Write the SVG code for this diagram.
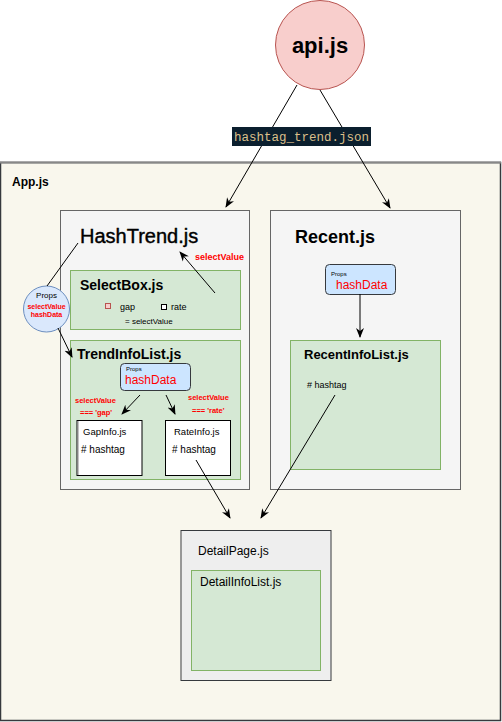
<svg xmlns="http://www.w3.org/2000/svg" width="502" height="722" viewBox="0 0 502 722">
<style>
text{font-family:"Liberation Sans",Arial,sans-serif;fill:#000}
.b{font-weight:bold}
.red{fill:#ff0000}
.ln{stroke:#000;stroke-width:1;fill:none}
.grey{fill:#f5f5f5;stroke:#666;stroke-width:1}
.green{fill:#d5e8d4;stroke:#82b366;stroke-width:1}
.white{fill:#fff;stroke:#000;stroke-width:1}
.props{fill:#cce5ff;stroke:#36393d;stroke-width:1}
</style>
<defs>
<marker id="ah" viewBox="0 0 10 10" refX="9" refY="5" markerWidth="10" markerHeight="10" orient="auto" markerUnits="userSpaceOnUse">
<path d="M0,1 L10,5 L0,9 L3,5 Z" fill="#000"/>
</marker>
</defs>
<rect width="502" height="722" fill="#fff"/>
<g id="app">
<rect x="0.5" y="162.5" width="500" height="558" fill="#f9f7ed" stroke="#36393d" stroke-width="1.5"/>
<line x1="0" y1="162.5" x2="501" y2="162.5" stroke="#888" stroke-width="2"/>
<text x="12" y="186" class="b" font-size="12">App.js</text>
</g>
<g id="api">
<circle cx="320" cy="45" r="44.5" fill="#f8cecc" stroke="#b85450"/>
<text x="320" y="53" class="b" font-size="22" text-anchor="middle">api.js</text>
</g>
<g id="hashtrend">
<rect x="60.5" y="210.5" width="189" height="279" class="grey"/>
<text x="80" y="243" font-size="20" stroke="#000" stroke-width="0.4">HashTrend.js</text>
</g>
<g id="selectbox">
<rect x="70.5" y="270.5" width="170" height="59" class="green"/>
<text x="80" y="290" class="b" font-size="14">SelectBox.js</text>
<rect x="105.5" y="303.5" width="5" height="5" fill="#f8cecc" stroke="#b85450"/>
<text x="120" y="310" font-size="9">gap</text>
<rect x="161.5" y="304.5" width="5" height="5" fill="#fff" stroke="#000"/>
<text x="171" y="310" font-size="9">rate</text>
<text x="125" y="324" font-size="8">= selectValue</text>
<text x="195" y="260" class="b red" font-size="9">selectValue</text>
</g>
<g id="props-circle">
<circle cx="46.5" cy="309" r="23" fill="#dae8fc" stroke="#6c8ebf"/>
<text x="46.5" y="298" font-size="8" text-anchor="middle">Props</text>
<text x="46.5" y="309" font-size="7" class="b red" text-anchor="middle">selectValue</text>
<text x="46.5" y="317" font-size="7" class="b red" text-anchor="middle">hashData</text>
</g>
<g id="trendinfolist">
<rect x="70.5" y="340.5" width="170" height="139" class="green"/>
<text x="77" y="359" class="b" font-size="14">TrendInfoList.js</text>
<rect x="120.5" y="363.5" width="70" height="27" rx="4" class="props"/>
<text x="126" y="371" font-size="6">Props</text>
<text x="125" y="384" font-size="12" class="red">hashData</text>
<text x="75" y="403" font-size="7.5" class="b red">selectValue</text>
<text x="80" y="415" font-size="7.5" class="b red">=== 'gap'</text>
<text x="188" y="400" font-size="7.5" class="b red">selectValue</text>
<text x="192" y="413" font-size="7.5" class="b red">=== 'rate'</text>
</g>
<g id="gapinfo">
<rect x="77" y="420.5" width="65" height="55" class="white"/>
<line x1="78" y1="421" x2="78" y2="475" stroke="#888"/>
<text x="83" y="435" font-size="9.5">GapInfo.js</text>
<text x="81" y="453" font-size="10">#  hashtag</text>
</g>
<g id="rateinfo">
<rect x="165.5" y="420.5" width="65" height="55" class="white"/>
<text x="174" y="435" font-size="9.5">RateInfo.js</text>
<text x="172" y="453" font-size="10">#  hashtag</text>
</g>
<g id="recent">
<rect x="270.5" y="210.5" width="190" height="279" class="grey"/>
<text x="295" y="243" class="b" font-size="18">Recent.js</text>
<rect x="325.5" y="264.5" width="70" height="30" rx="4" class="props"/>
<text x="331" y="276" font-size="6">Props</text>
<text x="336" y="289" font-size="12" class="red">hashData</text>
</g>
<g id="recentinfolist">
<rect x="290.5" y="340.5" width="150" height="129" class="green"/>
<text x="304" y="359" class="b" font-size="13">RecentInfoList.js</text>
<text x="307" y="388" font-size="9">#  hashtag</text>
</g>
<g id="detailpage">
<rect x="181" y="530.5" width="150" height="150" fill="#eeeeee" stroke="#36393d"/>
<line x1="181" y1="531" x2="181" y2="680" stroke="#999" stroke-width="1.5"/>
<text x="198" y="555" font-size="12">DetailPage.js</text>
</g>
<g id="detailinfolist">
<rect x="191.5" y="570.5" width="129" height="100" class="green"/>
<text x="200" y="586" font-size="12">DetailInfoList.js</text>
</g>
<g id="connectors">
<line x1="297" y1="85" x2="226" y2="207" class="ln" marker-end="url(#ah)"/>
<line x1="320" y1="90" x2="390" y2="208" class="ln" marker-end="url(#ah)"/>
<line x1="215" y1="293" x2="180" y2="252" class="ln" marker-end="url(#ah)"/>
<line x1="78" y1="243" x2="47" y2="286" class="ln"/>
<line x1="58" y1="328" x2="72" y2="357" class="ln" marker-end="url(#ah)"/>
<line x1="140" y1="395" x2="122" y2="414" class="ln" marker-end="url(#ah)"/>
<line x1="166" y1="395" x2="175" y2="414" class="ln" marker-end="url(#ah)"/>
<line x1="360" y1="294" x2="360" y2="337" class="ln" marker-end="url(#ah)"/>
<line x1="196" y1="460" x2="230" y2="518" class="ln" marker-end="url(#ah)"/>
<line x1="335" y1="395" x2="261" y2="518" class="ln" marker-end="url(#ah)"/>
</g>
<g id="json-label">
<rect x="232" y="127" width="139" height="19" fill="#0b1f2e"/>
<text x="301.5" y="141" font-size="12.5" style="font-family:'Liberation Mono','DejaVu Sans Mono',monospace;fill:#dcbf8a" text-anchor="middle">hashtag_trend.json</text>
</g>
</svg>
